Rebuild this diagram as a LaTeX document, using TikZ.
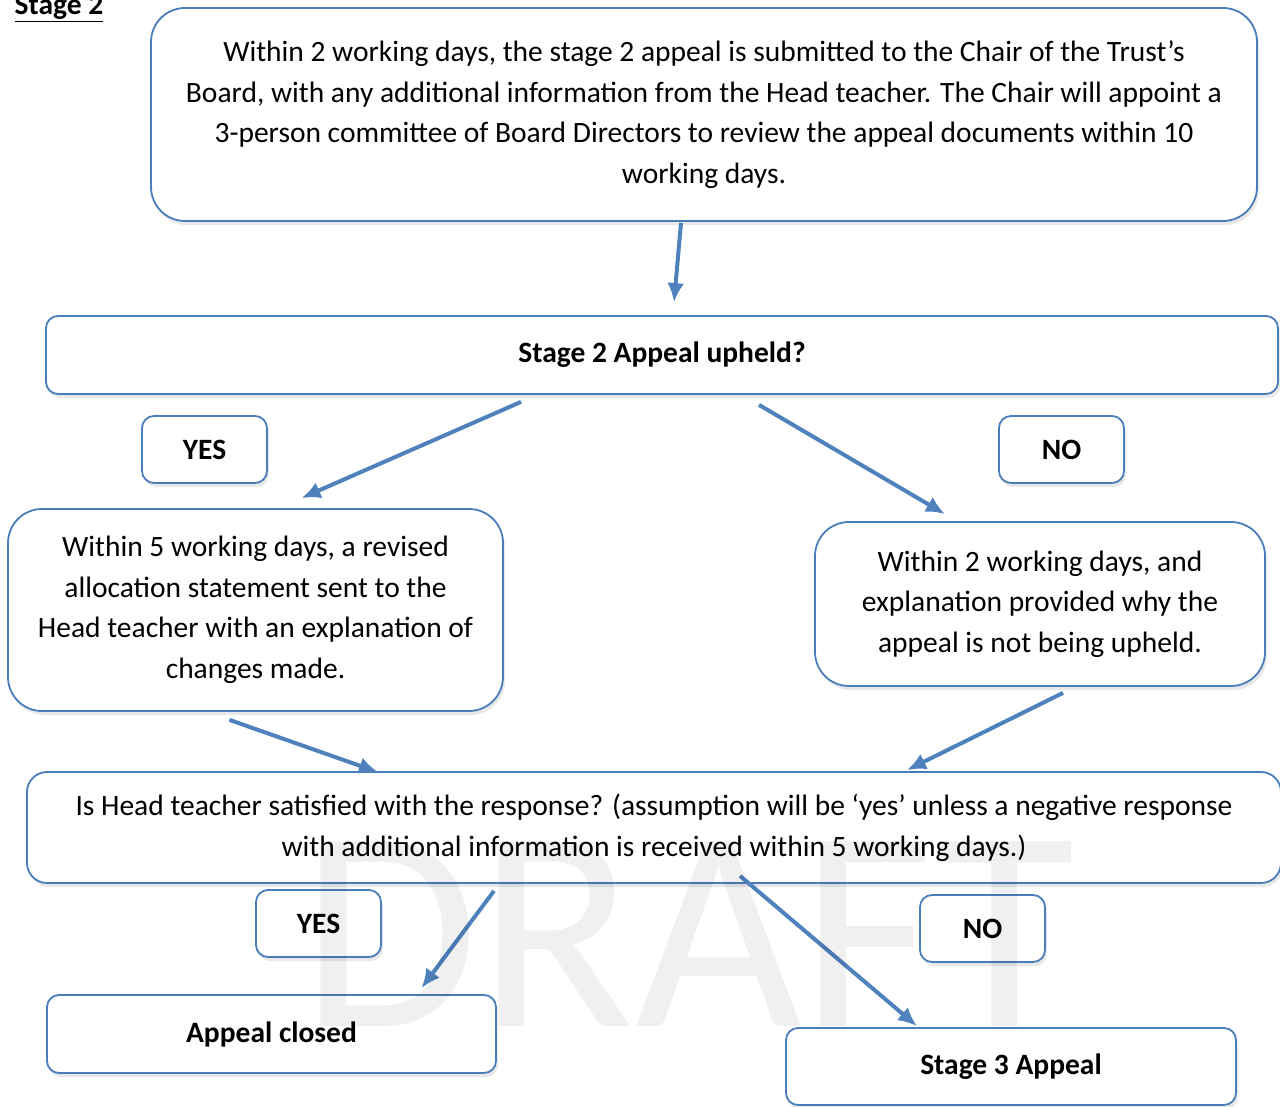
\documentclass[tikz,border=0pt]{standalone}
\usepackage{fontspec}
\setmainfont{Carlito}
\usetikzlibrary{arrows.meta,shadows}

\definecolor{boxblue}{HTML}{4A7EBB}
\definecolor{arrowblue}{HTML}{4F81BD}

\begin{document}
\begin{tikzpicture}[x=1pt,y=-1pt,
	box/.style={draw=boxblue, line width=1.8pt, fill=white, align=center,
		rounded corners=34pt, inner sep=0pt,
		drop shadow={opacity=0.18, shadow xshift=2pt, shadow yshift=-4pt},
		font=\fontsize{29.5}{40.5}\selectfont},
	tag/.style={box, rounded corners=12pt, font=\fontsize{29.5}{40.5}\selectfont\bfseries},
	flow/.style={draw=arrowblue, line width=4pt,
		-{Latex[length=19pt,width=17pt]}}]

	\useasboundingbox (0,0) rectangle (1280,1107);

	\node[anchor=base, inner sep=0pt, font=\fontsize{29.5}{30}\selectfont\bfseries]
		(title) at (59,15) {\underline{Stage 2}};

	% boxes
	\node[box, minimum width=1106pt, minimum height=213pt] (submit) at (704,114.5)
		{Within 2 working days, the stage 2 appeal is submitted to the Chair of the Trust’s\\
		Board, with any additional information from the Head teacher. The Chair will appoint a\\
		3-person committee of Board Directors to review the appeal documents within 10\\
		working days.};
	\node[box, rounded corners=12pt, minimum width=1232pt, minimum height=78pt,
		font=\fontsize{29.5}{40.5}\selectfont\bfseries] (upheld) at (662,355)
		{Stage 2 Appeal upheld?};
	\node[tag, minimum width=125pt, minimum height=67pt] (yesa) at (204.5,449.5) {YES};
	\node[tag, minimum width=125pt, minimum height=67pt] (noa) at (1061.5,449.5) {NO};
	\node[box, minimum width=495pt, minimum height=202pt] (revised) at (255.5,610)
		{Within 5 working days, a revised\\
		allocation statement sent to the\\
		Head teacher with an explanation of\\
		changes made.};
	\node[box, minimum width=450pt, minimum height=164pt] (explain) at (1040,604)
		{Within 2 working days, and\\
		explanation provided why the\\
		appeal is not being upheld.};
	\node[box, rounded corners=20pt, minimum width=1254pt, minimum height=111pt]
		(satisfied) at (654,827.5)
		{Is Head teacher satisfied with the response? (assumption will be ‘yes’ unless a negative response\\
		with additional information is received within 5 working days.)};
	\node[tag, minimum width=125pt, minimum height=67pt] (yesb) at (318.5,923.5) {YES};
	\node[tag, minimum width=125pt, minimum height=67pt] (nob) at (982.5,928.5) {NO};
	\node[tag, minimum width=449pt, minimum height=78pt] (closed) at (271.5,1034) {Appeal closed};
	\node[tag, minimum width=450pt, minimum height=77pt] (stagethree) at (1011,1066.5) {Stage 3 Appeal};

	% arrows
	\draw[flow] ([xshift=-23pt,yshift=-1pt]submit.south) -- ([xshift=12pt,yshift=13pt]upheld.north);
	\draw[flow] ([xshift=-141pt,yshift=-7pt]upheld.south) -- ([xshift=46pt,yshift=10pt]revised.north);
	\draw[flow] ([xshift=97pt,yshift=-10pt]upheld.south) -- ([xshift=-95pt,yshift=7pt]explain.north);
	\draw[flow] ([xshift=-26pt,yshift=-8pt]revised.south) -- ([xshift=-276pt,yshift=-1pt]satisfied.north);
	\draw[flow] ([xshift=23pt,yshift=-6pt]explain.south) -- ([xshift=253pt,yshift=1pt]satisfied.north);
	\draw[flow] ([xshift=-160pt,yshift=-7pt]satisfied.south) -- ([xshift=150pt,yshift=6pt]closed.north);
	\draw[flow] ([xshift=86pt,yshift=8pt]satisfied.south) -- ([xshift=-94pt,yshift=1pt]stagethree.north);

	% watermark
	\begin{scope}[blend mode=multiply]
		\node[text=black!6, inner sep=0pt, font=\fontsize{288}{288}\selectfont]
			(mark) at (688,934) {DRAFT};
	\end{scope}
\end{tikzpicture}
\end{document}
